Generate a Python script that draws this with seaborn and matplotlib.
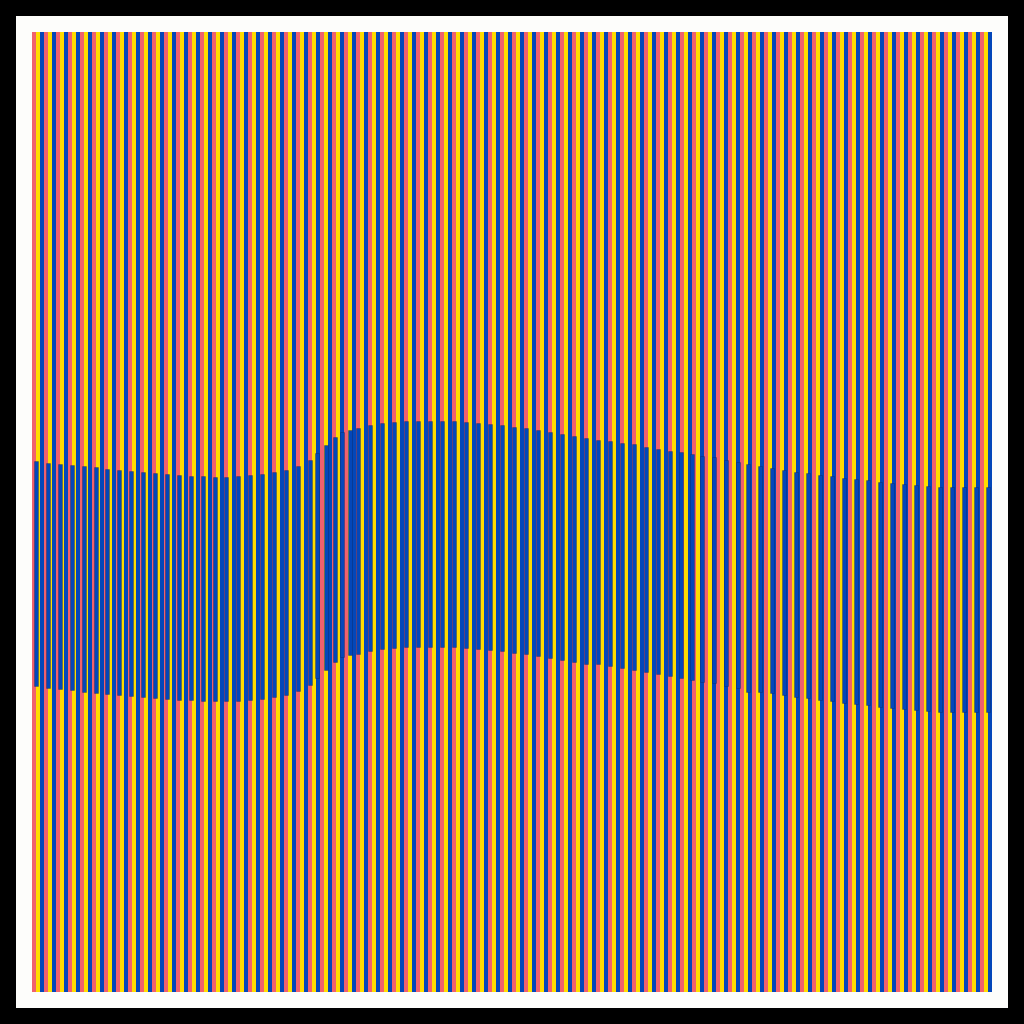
#!/usr/bin/env python3
"""
Op-art stripe chart: 240 full-length stripes cycling coral / yellow / blue,
with a band of floating blue range bars drifting across them.
Saves out.png (1024x1024).
"""

import numpy as np
import pandas as pd
import seaborn as sns
import matplotlib.pyplot as plt

# background stripes
STRIPE_COUNT = 240
STRIPE_LENGTH = 960
TONES = ["coral", "yellow", "blue"]
PALETTE = {"coral": "#F0616D", "yellow": "#FFDC00", "blue": "#0447B9"}

# floating bars: position (stripe units), upper edge and lower edge (depth from top)
band_x = [
    0.5, 3.48, 6.45, 9.43, 12.4, 15.4, 18.35, 21.3, 24.3, 27.3, 30.3, 33.25,
    36.2, 39.2, 42.2, 45.15, 48.1, 51.1, 54.1, 57.05, 60.05, 63.0, 66.0,
    69.0, 70.75, 73.0, 75.25, 77.0, 79.0,
    81, 84, 87, 90, 93, 96, 99, 102, 105, 108, 111, 114, 117, 120, 123, 126,
    129, 132, 135, 138, 141, 144, 147, 150, 153, 156, 159, 161.75, 164.4, 167,
    170,
    173, 176,
    178.5, 181.5, 184.5, 187.5, 190.5, 193.5, 196.5, 199.5, 202.5, 205.5,
    208.5, 211.5, 214.5, 217.5, 220.5, 223.5, 226.5, 229.5, 232.5, 235.5, 238.5,
]
band_start = [
    429, 431, 432, 433, 434, 435, 437, 438, 439, 440, 441, 442, 443, 444, 444,
    445, 445, 444, 443, 442, 440, 438, 434,
    428, 421, 413, 405, 400, 398,
    396, 393, 391, 390, 389, 389, 389, 389, 389, 390, 391, 392, 393, 395, 396,
    398, 400, 402, 404, 406, 407.5, 408.7, 410.7, 412.3, 414.7, 416.7, 418.7,
    420.3, 422, 423.7, 424.7,
    428, 430,
    432, 433.7, 436, 438, 439.7, 441, 442.5, 444, 445.5, 447, 448, 449.5, 450.5,
    452, 453, 454, 454.5, 455, 455, 455, 455,
]
band_end = [
    654, 656, 657, 658, 660, 661, 662, 663, 664, 665, 666, 667, 668, 668, 669,
    669, 669, 669, 668, 667, 665, 663, 659,
    653, 646, 638, 630, 625, 623,
    621.5, 618.5, 616.5, 615.5, 614.5, 614.5, 614.5, 614.5, 614.5, 615.5, 616.5,
    617.5, 618.5, 620.5, 621.5, 623.5, 625.5, 627.5, 629.5, 631.5, 632, 634,
    636.3, 638, 639.7, 642, 644, 645.7, 648, 649.7, 651,
    654, 656,
    659.7, 660.3, 661.3, 663, 664.7, 666, 667.5, 669, 670.5, 672, 673, 674.5,
    675.5, 677, 678, 679, 679.5, 680, 680, 680, 680,
]


def main():
    sns.set_theme(style="white")

    stripes = pd.DataFrame({
        "stripe": np.arange(STRIPE_COUNT),
        "length": STRIPE_LENGTH,
        "tone": [TONES[i % len(TONES)] for i in range(STRIPE_COUNT)],
    })

    fig = plt.figure(figsize=(10.24, 10.24), dpi=100, facecolor="black")
    ax = fig.add_axes([16 / 1024, 16 / 1024, 992 / 1024, 992 / 1024])
    ax.set_facecolor("#FDFDFB")

    sns.barplot(
        data=stripes, x="stripe", y="length", hue="tone", palette=PALETTE,
        hue_order=TONES, dodge=False, width=1.0, errorbar=None, saturation=1,
        linewidth=0, edgecolor="none", legend=False, ax=ax,
    )

    # floating band drawn on the same axes
    start = np.array(band_start)
    end = np.array(band_end)
    ax.bar(
        band_x, end - start, bottom=start, width=1.0, color=PALETTE["blue"],
        edgecolor=(0.05, 0.08, 0.2, 0.3), linewidth=0.6, zorder=3,
    )

    ax.set_xlim(-4.5, STRIPE_COUNT - 0.5 + 4)
    ax.set_ylim(STRIPE_LENGTH + 16, -16)
    ax.set_xticks([])
    ax.set_yticks([])
    ax.set_xlabel("")
    ax.set_ylabel("")
    for spine in ax.spines.values():
        spine.set_visible(False)

    fig.savefig("out.png", dpi=100, facecolor="black")
    plt.close(fig)


if __name__ == "__main__":
    main()
